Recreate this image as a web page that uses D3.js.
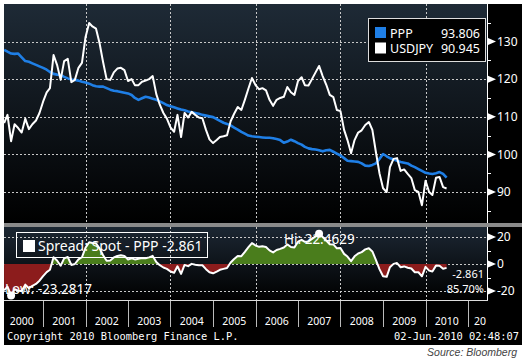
<!DOCTYPE html>
<html><head><meta charset="utf-8">
<script src="https://cdn.jsdelivr.net/npm/d3@7"></script>
<style>body{margin:0;background:#fff}svg{display:block}</style>
</head><body>
<svg id="c" width="524" height="360"></svg>
<script>
// Monthly closes, Jan 2000 .. Jun 2010
const usdjpy = [
 108.3,110.5,103.5,108,107,105.8,109.5,106.7,108,109,111,114,
 116.5,117.6,126.4,123.8,119.8,124.8,125.4,119.2,119.8,123,124.3,131.2,
 134.9,134,133.4,129.6,124.5,120,119.8,121.8,122.8,123,122.4,119.5,
 120,118.4,118.4,119.3,119.6,120,120.8,116,113.2,111,109.5,107.2,
 106,110.5,104.6,111,109.8,111.3,110.5,109.8,109.6,106.5,104,103,
 103.8,104.6,104.8,105.1,108.8,110.8,112.6,111.8,114.5,117.5,120.3,118.4,
 117.3,117.6,117,114.5,112.9,114.5,115,115.3,117.9,116.5,115.8,119.5,
 120.5,118.4,118.3,120,121.8,123.5,120.8,118.5,115.8,115.2,111.8,111.5,
 106.5,103.8,100.3,103.8,105.8,106.4,107.8,108.6,106.5,100.5,95,91,
 90,96.6,98.8,99,95.6,96,94.8,93.7,90.5,90,86.5,93,
 90,89.2,93.8,94,91.3,90.945];
const ppp = [
 127.8,127.3,126.8,126.7,126.8,125.8,124.8,124.6,124.2,123.8,123.4,123,
 122.5,121.9,121.4,121.2,121.1,120.6,120.2,119.9,119.8,119.6,119.3,119.1,
 118.8,118.4,118.1,118,118,117.6,117.2,116.9,116.8,116.6,116.4,116.2,
 115.8,115,114.5,114.9,115.3,115.1,114.8,114.5,114.1,113.6,113.1,112.8,
 112.5,112.2,111.9,111.7,111.4,111.2,111,110.8,110.5,110.3,110.1,109.9,
 109.4,108.9,108.4,108.1,107.7,107.1,106.6,106,105.5,105,104.8,104.7,
 104.6,104.5,104.4,104.4,104.3,104.1,103.8,103.1,103.4,103.9,103.5,103,
 102.6,102,101.6,101.4,101.3,101.1,100.8,101.1,101.2,100.7,100.2,99.7,
 99,98.3,98.2,98.1,98,97.6,97,96.9,97.2,97.6,98.8,100.1,
 99.5,99,98.7,98.3,98,97.8,97.6,97,96.6,96.1,95.6,95.1,
 94.9,94.8,95,95.3,94.8,93.806];
const firstMonth = new Date(2000, 1, 1);
const yearLabels = ["2000","2001","2002","2003","2004","2005","2006","2007","2008","2009","2010","20"];
const gridYears = [2002, 2004, 2006, 2008, 2010];
const upperTicks = [90, 100, 110, 120, 130];
const upperMinor = [85, 95, 105, 115, 125, 135];
const lowerTicks = [-20, 0, 20];
const lowerMinor = [-10, 10];
const legendItems = [{name: "PPP", value: "93.806", color: "#1f7fe6"}, {name: "USDJPY", value: "90.945", color: "#ffffff"}];
const spreadLabel = "Spread: Spot - PPP -2.861";
const hiLabel = "Hi: 22.4629", lowLabel = "Low: -23.2817";
const lastLabel = "-2.861", pctLabel = "85.70%";

const dates = usdjpy.map((_, i) => d3.timeMonth.offset(firstMonth, i));
const spread = usdjpy.map((v, i) => v - ppp[i]);

const svg = d3.select("#c");
const L = 4, R = 487, UT = 4, UB = 223, LT = 227, LB = 300;
const x = d3.scaleTime().domain([new Date(2000,0,1), new Date(2011,0,1)]).range([0.5, 468]);
const y = d3.scaleLinear().domain([90, 130]).range([192, 41.5]);
const ly = d3.scaleLinear().domain([-20, 20]).range([291, 237]);

const defs = svg.append("defs");
function grad(id, c0) {
  const g = defs.append("linearGradient").attr("id", id).attr("x1",0).attr("x2",0).attr("y1",0).attr("y2",1);
  g.append("stop").attr("offset","0%").attr("stop-color", c0);
  g.append("stop").attr("offset","100%").attr("stop-color", "#000");
}
grad("gu", "#1e2a36"); grad("gl", "#1c2733");
defs.append("clipPath").attr("id","cu").append("rect").attr("x",L).attr("y",UT).attr("width",R-L).attr("height",UB-UT);
defs.append("clipPath").attr("id","cl").append("rect").attr("x",L).attr("y",LT).attr("width",R-L).attr("height",LB-LT);
defs.append("clipPath").attr("id","cpos").append("rect").attr("x",L).attr("y",LT).attr("width",R-L).attr("height",ly(0)-LT);
defs.append("clipPath").attr("id","cneg").append("rect").attr("x",L).attr("y",ly(0)).attr("width",R-L).attr("height",LB-ly(0));

svg.append("rect").attr("width",524).attr("height",360).attr("fill","#fff");
svg.append("rect").attr("x",L).attr("y",4).attr("width",522-L).attr("height",341).attr("fill","#000");
svg.append("rect").attr("x",L).attr("y",UT).attr("width",R-L).attr("height",UB-UT).attr("fill","url(#gu)");
svg.append("rect").attr("x",L).attr("y",LT).attr("width",R-L).attr("height",LB-LT).attr("fill","url(#gl)");
svg.append("rect").attr("x",L).attr("y",UB).attr("width",522-L).attr("height",LT-UB).attr("fill","#8a8a8a");

const dash = "2,2", gcol = "#c8c8c8";
const gu = svg.append("g").attr("clip-path","url(#cu)");
gu.selectAll("line.h").data(upperTicks).join("line").attr("x1",L).attr("x2",R)
  .attr("y1",d=>Math.round(y(d))+0.5).attr("y2",d=>Math.round(y(d))+0.5)
  .attr("stroke",gcol).attr("stroke-dasharray",dash);
gu.selectAll("line.v").data(gridYears).join("line")
  .attr("x1",d=>Math.round(x(new Date(d,0,1)))+0.5).attr("x2",d=>Math.round(x(new Date(d,0,1)))+0.5)
  .attr("y1",UT).attr("y2",UB).attr("stroke",gcol).attr("stroke-dasharray",dash);
const gl = svg.append("g").attr("clip-path","url(#cl)");
gl.selectAll("line.h").data(lowerTicks).join("line").attr("x1",L).attr("x2",R)
  .attr("y1",d=>Math.round(ly(d))+0.5).attr("y2",d=>Math.round(ly(d))+0.5)
  .attr("stroke",gcol).attr("stroke-dasharray",dash);
gl.selectAll("line.v").data(gridYears).join("line")
  .attr("x1",d=>Math.round(x(new Date(d,0,1)))+0.5).attr("x2",d=>Math.round(x(new Date(d,0,1)))+0.5)
  .attr("y1",LT).attr("y2",LB).attr("stroke",gcol).attr("stroke-dasharray",dash);

const line = d3.line().x((d,i)=>x(dates[i])).y(d=>y(d));
gu.append("path").datum(ppp).attr("d",line).attr("fill","none").attr("stroke","#1f7fe6").attr("stroke-width",2.6).attr("stroke-linejoin","round");
gu.append("path").datum(usdjpy).attr("d",line).attr("fill","none").attr("stroke","#fff").attr("stroke-width",2).attr("stroke-linejoin","round");

const area = d3.area().x((d,i)=>x(dates[i])).y0(ly(0)).y1(d=>ly(d));
const lg = svg.append("g").attr("clip-path","url(#cl)");
lg.append("path").datum(spread).attr("d",area).attr("fill","#4a7d1c").attr("clip-path","url(#cpos)");
lg.append("path").datum(spread).attr("d",area).attr("fill","#8c1c1c").attr("clip-path","url(#cneg)");
lg.append("path").datum(spread).attr("d",d3.line().x((d,i)=>x(dates[i])).y(d=>ly(d)))
  .attr("fill","none").attr("stroke","#fff").attr("stroke-width",2).attr("stroke-linejoin","round");

const iHi = d3.maxIndex(spread), iLo = d3.minIndex(spread);
svg.append("circle").attr("cx",x(dates[iHi])).attr("cy",ly(spread[iHi])).attr("r",4).attr("fill","#fff");
svg.append("circle").attr("cx",x(dates[iLo])).attr("cy",ly(spread[iLo])).attr("r",4).attr("fill","#fff");
const ff = "'Noto Sans', sans-serif";
svg.append("text").attr("x",x(dates[iHi])-35).attr("y",244).attr("fill","#fff").attr("font-family",ff).attr("font-size",13.5).text(hiLabel);
svg.append("text").attr("x",5).attr("y",294).attr("fill","#fff").attr("font-family",ff).attr("font-size",13.5).text(lowLabel);

svg.append("rect").attr("x",16.5).attr("y",232.5).attr("width",191).attr("height",25).attr("fill","none").attr("stroke","#fff");
svg.append("rect").attr("x",23).attr("y",240).attr("width",12).attr("height",12).attr("fill","#fff");
svg.append("text").attr("x",38).attr("y",251).attr("fill","#fff").attr("font-family",ff).attr("font-size",14).text(spreadLabel);
svg.append("text").attr("x",484).attr("y",278).attr("text-anchor","end").attr("fill","#fff").attr("font-family",ff).attr("font-size",11).text(lastLabel);
svg.append("text").attr("x",484).attr("y",293).attr("text-anchor","end").attr("fill","#fff").attr("font-family",ff).attr("font-size",11).text(pctLabel);

svg.append("rect").attr("x",368.5).attr("y",18.5).attr("width",117).attr("height",43).attr("fill","#000").attr("stroke","#ddd");
legendItems.forEach((d,i)=>{
  const by = 37.5 + i*15.5;
  svg.append("rect").attr("x",375).attr("y",by-10.5).attr("width",11).attr("height",11).attr("fill",d.color);
  svg.append("text").attr("x",390).attr("y",by).attr("fill","#fff").attr("font-family",ff).attr("font-size",12.5).text(d.name);
  svg.append("text").attr("x",480).attr("y",by).attr("text-anchor","end").attr("fill","#fff").attr("font-family",ff).attr("font-size",12.5).text(d.value);
});

svg.append("line").attr("x1",R+0.5).attr("x2",R+0.5).attr("y1",UT).attr("y2",UB).attr("stroke","#fff");
svg.append("line").attr("x1",R+0.5).attr("x2",R+0.5).attr("y1",LT).attr("y2",LB).attr("stroke","#fff");
svg.append("line").attr("x1",L).attr("x2",R+1).attr("y1",LB+0.5).attr("y2",LB+0.5).attr("stroke","#ddd");
function axis(scale, ticks, minor) {
  ticks.forEach(t=>{
    const yy = scale(t);
    svg.append("path").attr("d",`M${R+1},${yy-3.5}L${R+9},${yy}L${R+1},${yy+3.5}Z`).attr("fill","#fff");
    svg.append("text").attr("x",R+10).attr("y",yy).attr("dy","0.36em").attr("fill","#fff").attr("font-family",ff).attr("font-size",12).text(t);
  });
  minor.forEach(t=>{
    const yy = Math.round(scale(t))+0.5;
    svg.append("line").attr("x1",R).attr("x2",R+4).attr("y1",yy).attr("y2",yy).attr("stroke","#fff");
  });
}
axis(y, upperTicks, upperMinor);
axis(ly, lowerTicks, lowerMinor);

yearLabels.forEach((lab,i)=>{
  const yr = 2000 + i;
  const x0 = x(new Date(yr,0,1)), x1 = x(new Date(yr+1,0,1));
  if (i > 0) svg.append("line").attr("x1",Math.round(x0)+0.5).attr("x2",Math.round(x0)+0.5).attr("y1",LB+1).attr("y2",327).attr("stroke","#bbb");
  const t = svg.append("text").attr("y",325).attr("fill","#fff").attr("font-family",ff).attr("font-size",10.5).text(lab);
  if (x1 > R) t.attr("x", x0+6).attr("text-anchor","start");
  else t.attr("x",(x0+x1)/2).attr("text-anchor","middle");
});

const mono = "'DejaVu Sans Mono', monospace";
svg.append("text").attr("x",7).attr("y",340).attr("fill","#fff").attr("font-family",mono).attr("font-size",10.4).text("Copyright 2010 Bloomberg Finance L.P.");
svg.append("text").attr("x",519).attr("y",340).attr("text-anchor","end").attr("fill","#fff").attr("font-family",mono).attr("font-size",10.4).text("02-Jun-2010 02:48:07");
svg.append("text").attr("x",517).attr("y",356).attr("text-anchor","end").attr("fill","#444").attr("font-family","'Liberation Sans', Arial, sans-serif").attr("font-style","italic").attr("font-size",10.5).text("Source: Bloomberg");
</script>
</body></html>
